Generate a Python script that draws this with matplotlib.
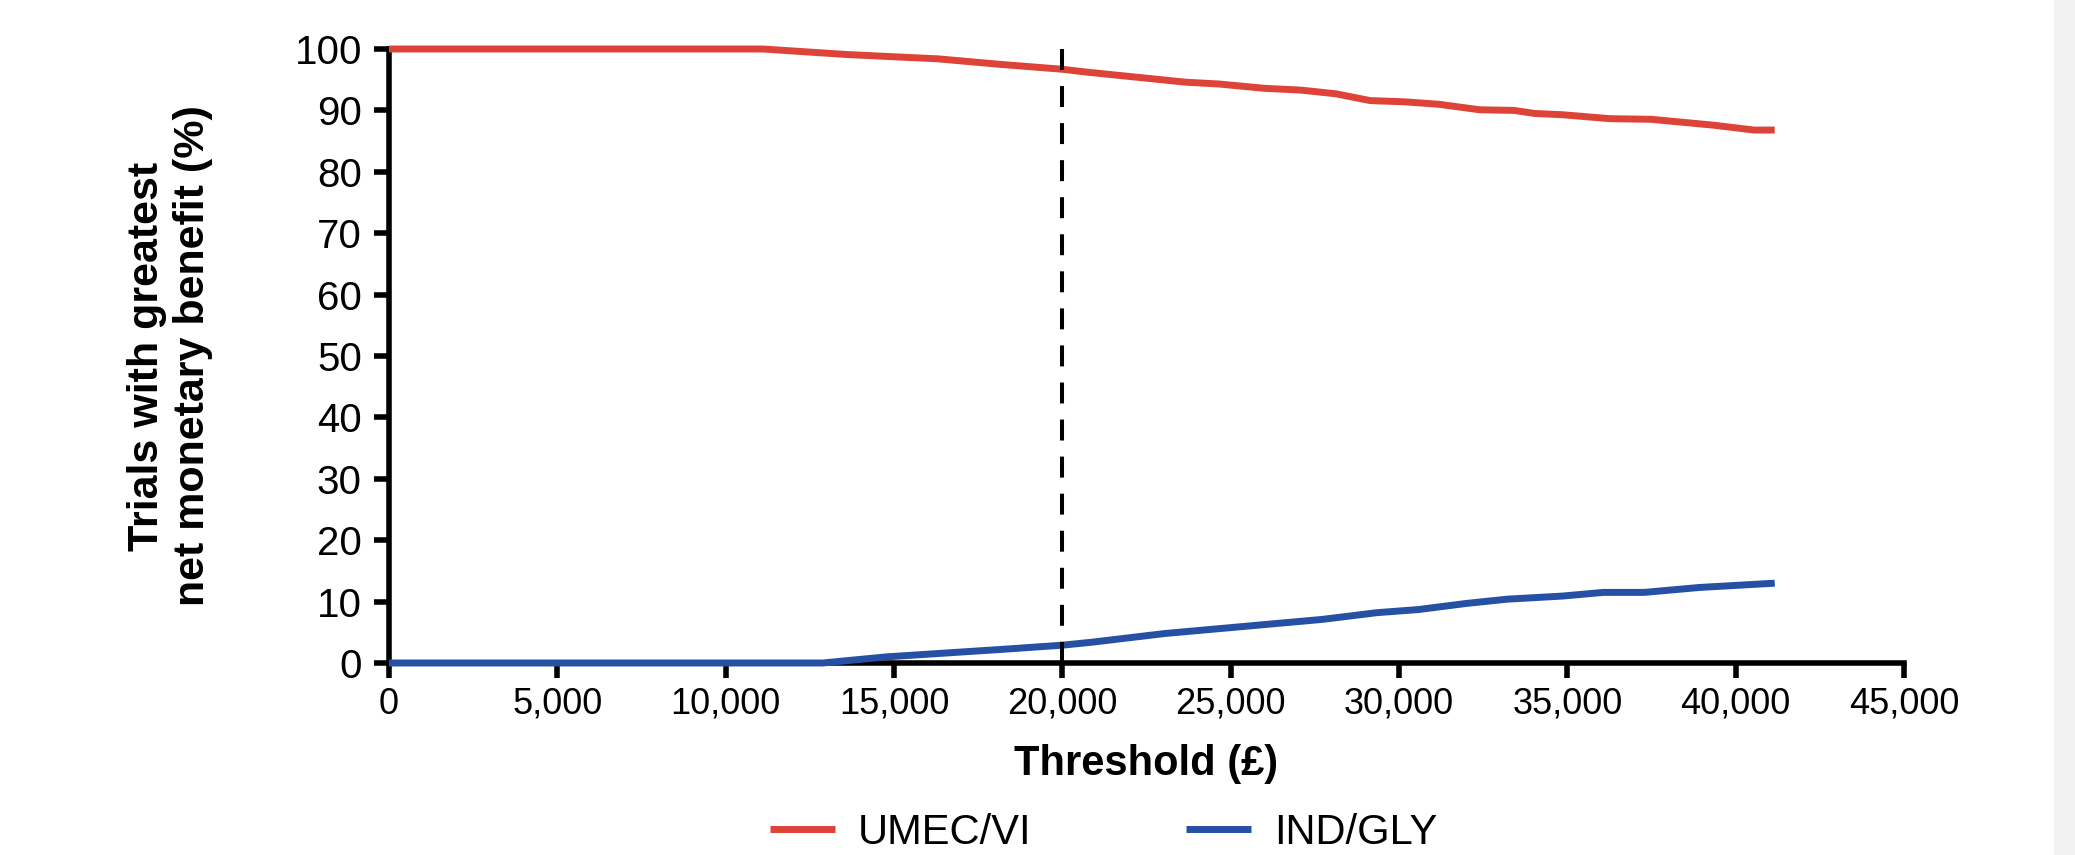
import matplotlib
matplotlib.use("Agg")
import matplotlib.pyplot as plt
from matplotlib.patches import Rectangle

# threshold (GBP) vs % of trials with greatest net monetary benefit
thr_umec = [0, 11100, 13600, 16300, 18150, 20000, 20700, 23650, 24650, 26000, 27100,
            28130, 29140, 30160, 31180, 32400, 33420, 34030, 34840, 36270, 37490,
            39330, 40550, 41160]
umec = [100, 100, 99.1, 98.4, 97.5, 96.7, 96.25, 94.6, 94.3, 93.6, 93.3,
        92.7, 91.6, 91.4, 91.0, 90.1, 90.0, 89.5, 89.3, 88.65, 88.55,
        87.6, 86.8, 86.8]

thr_ind = [0, 12880, 14780, 18150, 20000, 20900, 23040, 24260, 26090, 27720, 29350,
           30570, 32000, 33220, 34850, 36070, 37290, 38920, 41160]
ind = [0, 0, 1.0, 2.2, 2.9, 3.4, 4.8, 5.4, 6.3, 7.1, 8.2,
       8.7, 9.7, 10.4, 10.9, 11.5, 11.5, 12.3, 13.0]

xticks = [0, 5000, 10000, 15000, 20000, 25000, 30000, 35000, 40000, 45000]
yticks = [0, 10, 20, 30, 40, 50, 60, 70, 80, 90, 100]
wtp = 20000

red = '#de4337'
blue = '#2550a4'

plt.rcParams['font.family'] = ['Liberation Sans', 'DejaVu Sans']

fig = plt.figure(figsize=(20.75, 8.55), dpi=100)
ax = fig.add_axes([389/2075, 1-663/855, 1515/2075, 614/855])

ax.plot(thr_umec, umec, color=red, lw=5, label='UMEC/VI', zorder=3,
        clip_on=False, solid_capstyle='butt')
ax.plot(thr_ind, ind, color=blue, lw=5, label='IND/GLY', zorder=3,
        clip_on=False, solid_capstyle='butt')
ax.plot([wtp, wtp], [100, 0], color='k', lw=2.9, dashes=(5.2, 4.0), zorder=4,
        clip_on=False)

ax.set_xlim(0, 45000)
ax.set_ylim(0, 100)
ax.set_xticks(xticks)
ax.set_xticklabels(['{:,}'.format(v) for v in xticks])
ax.set_yticks(yticks)

for s in ['top', 'right']:
    ax.spines[s].set_visible(False)
for s in ['left', 'bottom']:
    ax.spines[s].set_linewidth(4)
ax.tick_params(axis='both', length=10.5, width=4, direction='out')
ax.tick_params(axis='y', labelsize=29, pad=9)
ax.tick_params(axis='x', labelsize=26, pad=6.5)

ax.set_xlabel('Threshold (£)', fontsize=30, fontweight='bold', labelpad=16)
ax.set_ylabel('Trials with greatest\nnet monetary benefit (%)', fontsize=31,
              fontweight='bold')
ax.yaxis.label.set_verticalalignment('center')
ax.yaxis.set_label_coords(-0.1446, 0.5)

fig.legend(loc='center', bbox_to_anchor=(1103.5/2075, 1-833/855),
           ncol=2, frameon=False, fontsize=30, borderpad=0,
           handlelength=1.56, handletextpad=0.56, columnspacing=3.7)

# light grey strip on the right edge of the page
fig.patches.append(Rectangle((2054/2075, 0), 21/2075, 1, transform=fig.transFigure,
                             color='#f2f2f2', zorder=0))

fig.savefig('out.png', dpi=100)
